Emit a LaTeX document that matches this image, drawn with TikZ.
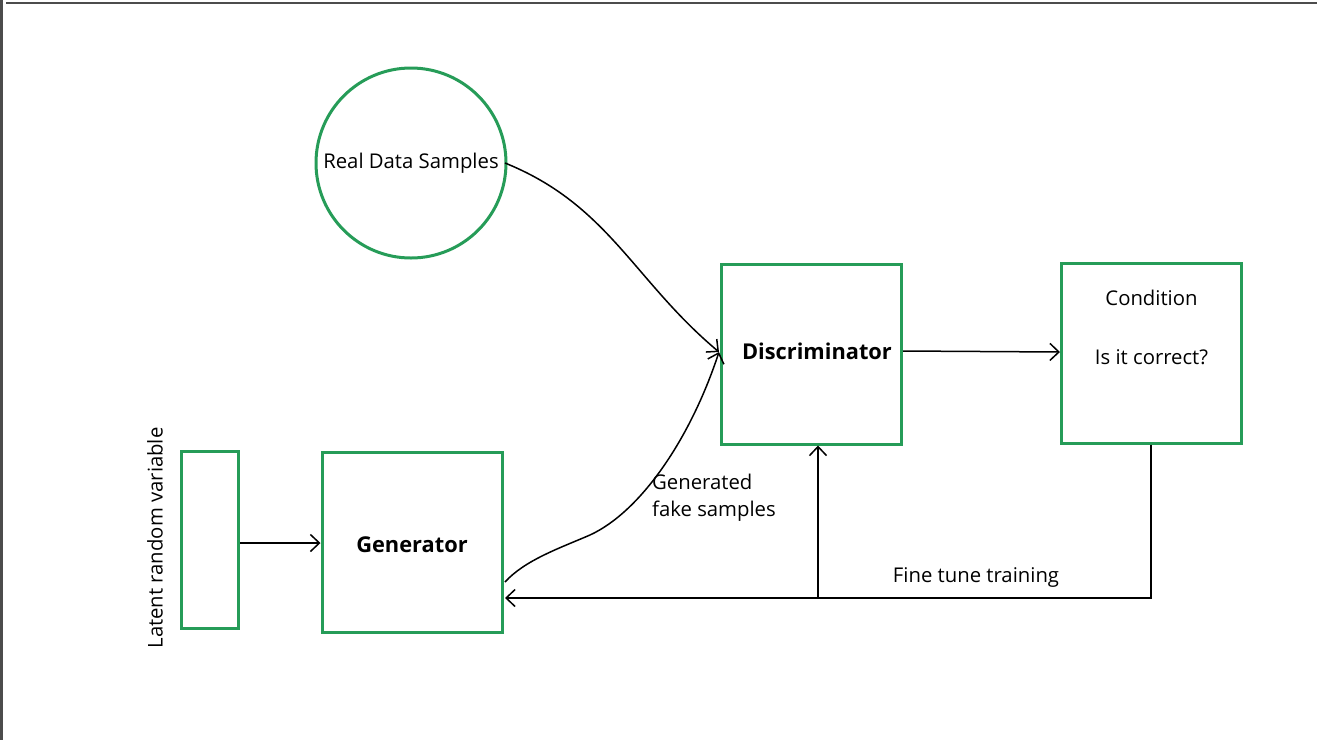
\documentclass[tikz,border=0pt]{standalone}
\usepackage{fontspec}
\setmainfont{Open Sans}
\usetikzlibrary{arrows.meta}
\usetikzlibrary{positioning}
\definecolor{gangreen}{RGB}{38,156,88}
\tikzstyle{block}=[rectangle,draw=gangreen,line width=3pt,inner sep=0pt,minimum width=180pt,minimum height=180pt]
\tikzstyle{source}=[circle,draw=gangreen,line width=3pt,inner sep=0pt,minimum size=190pt]
\tikzstyle{flow}=[-{Straight Barb[length=9pt,width=17pt]},draw=black,line width=1.5pt]
\tikzstyle{lbl}=[font=\fontsize{20.3}{27}\selectfont,inner sep=0pt]
\tikzstyle{title}=[font=\fontsize{21.8}{26}\selectfont\bfseries,inner sep=0pt]

\begin{document}
\begin{tikzpicture}[x=1pt,y=-1pt]
	\useasboundingbox (0,0) rectangle (1317,740);
	\draw [gray!60!black,line width=1.5pt] (6,3) -- (1317,3);
	\draw [gray!60!black,line width=3pt] (1.5,0) -- (1.5,740);
	% nodes
	\node [style=source] (real) at (411,163) {};
	\node [style=lbl] (realtxt) at (411,163) {Real Data Samples};
	\node [style=block] (disc) at (811.5,354) {};
	\node [style=title] (disctxt) at (817,351) {Discriminator};
	\node [style=block] (cond) at (1151.5,353) {};
	\node [style=lbl] (condtxt) at (1151.5,298) {Condition};
	\node [style=lbl] (corrtxt) at (1151.5,357) {Is it correct?};
	\node [style=block] (gen) at (412,542) {};
	\node [style=title] (gentxt) at (412,545) {Generator};
	\node [style=block,minimum width=57pt,minimum height=177pt] (latent) at (210,540) {};
	\node [style=lbl,rotate=90] (latenttxt) at (155,538) {Latent random variable};
	\node [style=lbl,align=left,anchor=west] (faketxt) at (652,498) {Generated\\fake samples};
	\node [style=lbl] (tunetxt) at (976,577) {Fine tune training};
	\coordinate (realout) at (505,163);
	\coordinate (discin) at (719,352);
	\coordinate (genout) at (505,582);
	\coordinate (genin) at (505,598);
	\coordinate (branch) at (818,598);
	\coordinate (corner) at (1151,598);
	% edges
	\draw [style=flow] (latent.east |- 0,543) -- (gen.west |- 0,543);
	\draw [style=flow] (realout) to[out=-22,in=140] (discin);
	\draw [style=flow] (genout) .. controls (525,560) and (560,548) .. (590,535)
		.. controls (640,512) and (690,440) .. (discin);
	\draw [style=flow] (disc.east |- 0,351) -- (cond.west |- 0,352);
	\draw [style=flow] (cond.south -| corner) -- (corner) -- (genin);
	\draw [style=flow] (branch) -- (disc.south -| branch);
\end{tikzpicture}
\end{document}
